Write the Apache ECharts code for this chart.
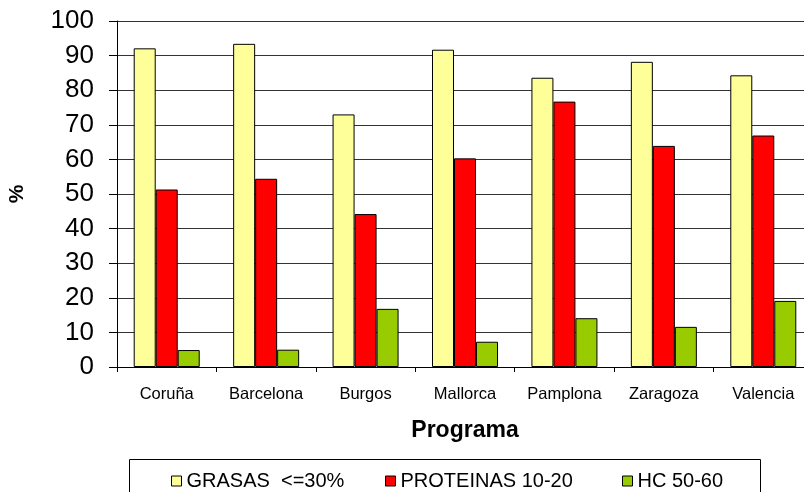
<!DOCTYPE html>
<html>
<head>
<meta charset="utf-8">
<script src="https://cdn.jsdelivr.net/npm/echarts@6/dist/echarts.min.js"></script>
<style>html,body{margin:0;padding:0;background:#fff}#c{width:804px;height:492px}</style>
</head>
<body>
<div id="c"></div>
<script>
const categories = ['Coruña', 'Barcelona', 'Burgos', 'Mallorca', 'Pamplona', 'Zaragoza', 'Valencia'];
const grasas = [92.1, 93.4, 73.0, 91.7, 83.6, 88.2, 84.3];
const proteinas = [51.3, 54.4, 44.2, 60.3, 76.7, 63.9, 66.9];
const hc = [4.9, 5.0, 16.8, 7.3, 14.1, 11.6, 19.1];
const seriesNames = ['GRASAS  <=30%', 'PROTEINAS 10-20', 'HC 50-60'];
const colors = ['#ffff99', '#ff0000', '#99cc00'];
const legendLefts = [171, 385, 622];

const chart = echarts.init(document.getElementById('c'), null, {renderer: 'canvas'});
const font = 'Liberation Sans, Arial, sans-serif';

function bar(name, data, color) {
  return {
    name, type: 'bar', data,
    barWidth: 22, barGap: '0%',
    itemStyle: {color, borderColor: '#000', borderWidth: 1},
    emphasis: {disabled: true}
  };
}

// one legend block per series so each entry sits at its own spot
const legends = seriesNames.map((n, i) => ({
  left: legendLefts[i], top: 471, padding: 0,
  icon: 'rect', itemWidth: 10, itemHeight: 10,
  itemStyle: {borderColor: '#000', borderWidth: 1},
  textStyle: {fontSize: 20, color: '#000', padding: [0, 0, 0, 0]},
  selectedMode: false,
  data: [n]
}));

chart.setOption({
  animation: false,
  textStyle: {fontFamily: font},
  grid: {left: 117, top: 21, width: 696, height: 346, containLabel: false, outerBoundsMode: 'none'},
  xAxis: {
    type: 'category', data: categories,
    name: 'Programa', nameLocation: 'middle', nameGap: 52,
    nameTextStyle: {fontSize: 23, fontWeight: 'bold', color: '#000'},
    axisLine: {lineStyle: {color: '#000', width: 1}},
    axisTick: {show: true, length: 5, lineStyle: {color: '#000'}},
    axisLabel: {fontSize: 16.5, color: '#000', margin: 19}
  },
  yAxis: {
    type: 'value', min: 0, max: 100, interval: 10,
    name: '%', nameLocation: 'middle', nameGap: 89, nameRotate: 90,
    nameTextStyle: {fontSize: 21, fontWeight: 'bold', color: '#000'},
    axisLine: {show: true, lineStyle: {color: '#000', width: 1}},
    axisTick: {show: true, length: 8, lineStyle: {color: '#000'}},
    axisLabel: {fontSize: 26, color: '#000', margin: 23},
    splitLine: {lineStyle: {color: '#333', width: 1.2}}
  },
  legend: legends,
  graphic: [{
    type: 'rect', left: 127, top: 457,
    shape: {width: 631, height: 60},
    style: {fill: 'none', stroke: '#000', lineWidth: 1}, silent: true
  }],
  series: [
    bar(seriesNames[0], grasas, colors[0]),
    bar(seriesNames[1], proteinas, colors[1]),
    bar(seriesNames[2], hc, colors[2])
  ]
});
</script>
</body>
</html>
